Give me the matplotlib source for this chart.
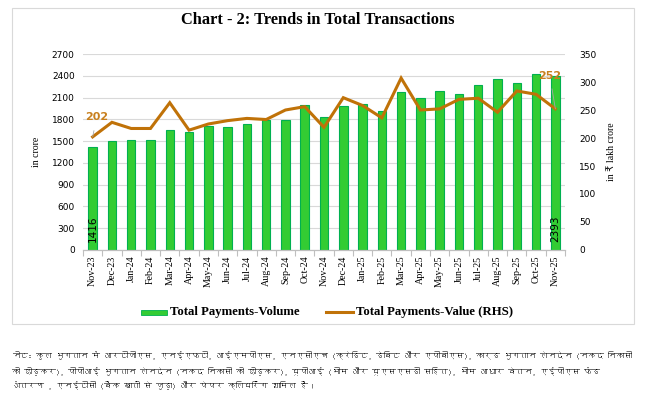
import matplotlib
matplotlib.use("Agg")
import matplotlib.pyplot as plt
from matplotlib import font_manager
from matplotlib.ft2font import FT2Font
from matplotlib.patches import Rectangle
import numpy as np

months = ["Nov-23", "Dec-23", "Jan-24", "Feb-24", "Mar-24", "Apr-24", "May-24",
          "Jun-24", "Jul-24", "Aug-24", "Sep-24", "Oct-24", "Nov-24", "Dec-24",
          "Jan-25", "Feb-25", "Mar-25", "Apr-25", "May-25", "Jun-25", "Jul-25",
          "Aug-25", "Sep-25", "Oct-25", "Nov-25"]
volume = [1416, 1495, 1522, 1522, 1655, 1620, 1702, 1688, 1742, 1794, 1794, 2004,
          1835, 1986, 2013, 1917, 2178, 2096, 2192, 2150, 2274, 2356, 2302, 2425, 2393]
value = [202, 228, 217, 217, 263, 214, 225, 231, 235, 233, 250, 256, 219, 272,
         258, 236, 307, 250, 252, 269, 271, 246, 284, 278, 252]

title = "Chart - 2: Trends in Total Transactions"
note_lines = [
    "नोट: कुल भुगतान में आरटीजीएस, एनईएफटी, आईएमपीएस, एनएसीएच (क्रेडिट, डेबिट और एपीबीएस), कार्ड भुगतान लेनदेन (नकद निकासी",
    "को छोड़कर), पीपीआई भुगतान लेनदेन (नकद निकासी को छोड़कर), यूपीआई (भीम और यूएसएसडी सहित), भीम आधार वेतन, एईपीएस फंड",
    "अंतरण , एनईटीसी (बैंक खातों से जुड़ा) और पेपर क्लियरिंग शामिल हैं।",
]


def find_family(ch):
    for fe in font_manager.fontManager.ttflist:
        try:
            f = FT2Font(fe.fname)
            if f.get_char_index(ord(ch)):
                return fe.name
        except Exception:
            pass
    return None


deva = find_family("न")
note_family = ([deva] if deva else []) + ["DejaVu Sans"]

W, H = 669, 397
fig = plt.figure(figsize=(W / 100, H / 100), dpi=100)

# chart border
fig.patches.append(Rectangle((12 / W, 1 - 324 / H), (634 - 12) / W, (324 - 8) / H,
                             transform=fig.transFigure, fill=False,
                             edgecolor="#D9D9D9", linewidth=0.8))

ax = fig.add_axes([83 / W, 1 - 250 / H, (565 - 83) / W, (250 - 54) / H])
ax2 = ax.twinx()

x = np.arange(len(months))
bar_c = "#33CC33"
bar_e = "#00B050"
line_c = "#C07208"

ax.bar(x, volume, width=0.44, color=bar_c, edgecolor=bar_e, linewidth=0.8, zorder=2)
ax.set_ylim(0, 2700)
ax.set_yticks(np.arange(0, 2701, 300))
ax.set_xlim(-0.5, len(months) - 0.5)
ax.grid(axis="y", color="#D9D9D9", linewidth=0.8, zorder=0)
ax.set_axisbelow(True)

ax2.plot(x, value, color=line_c, linewidth=2.2, zorder=3, solid_joinstyle="miter")
ax2.set_ylim(0, 350)
ax2.set_yticks(np.arange(0, 351, 50))

for a in (ax, ax2):
    for s in ("top", "left", "right"):
        a.spines[s].set_visible(False)
    a.spines["bottom"].set_color("#BFBFBF")
    a.tick_params(axis="y", length=0, labelsize=6.5, labelcolor="#000000")
ax.tick_params(axis="y", pad=6)
ax2.tick_params(axis="y", pad=10)

ax.set_xticks(x)
ax.set_xticklabels(months, rotation=90, fontsize=7.2, family="Liberation Serif")
ax.tick_params(axis="x", length=0, pad=4)
ax.set_xticks(np.arange(-0.5, len(months), 1), minor=True)
ax.tick_params(axis="x", which="minor", length=4, color="#BFBFBF", width=0.8)

ax.set_ylabel("in crore", family="Liberation Serif", fontsize=7, labelpad=8)
ax2.set_ylabel("in ₹ lakh crore", family=["Liberation Serif", "DejaVu Sans"], fontsize=7, labelpad=8)

# data labels for bars (first and last)
for i in (0, len(months) - 1):
    ax.annotate(str(volume[i]), (x[i], 0), xytext=(0, 6), textcoords="offset points",
                rotation=90, ha="center", va="bottom", fontsize=7.5, color="black",
                zorder=5)

# data labels for line (first and last) with leader lines
lbl_kw = dict(fontsize=8, fontweight="bold", color="#C8801E", family="DejaVu Sans",
              ha="center", va="center", zorder=6,
              arrowprops=dict(arrowstyle="-", color="#A6A6A6", lw=0.6, shrinkA=4, shrinkB=0))
ax2.annotate(str(value[0]), (x[0], value[0]), xytext=(3, 14), textcoords="offset points", **lbl_kw)
ax2.annotate(str(value[-1]), (x[-1], value[-1]), xytext=(-4, 24), textcoords="offset points", **lbl_kw)

fig.text(318 / W, 1 - 20 / H, title, ha="center", va="center", fontsize=11.8,
         fontweight="bold", family="Liberation Serif")

# legend
fig.patches.append(Rectangle((141 / W, 1 - 314.5 / H), 26 / W, 5 / H, transform=fig.transFigure,
                             facecolor=bar_c, edgecolor=bar_e, linewidth=0.6))
fig.text(170 / W, 1 - 312 / H, "Total Payments-Volume", ha="left", va="center",
         fontsize=9.2, fontweight="bold", family="Liberation Serif")
fig.lines.append(plt.Line2D([326 / W, 353 / W], [1 - 312 / H, 1 - 312 / H],
                            transform=fig.transFigure, color=line_c, linewidth=2.2))
fig.text(356 / W, 1 - 312 / H, "Total Payments-Value (RHS)", ha="left", va="center",
         fontsize=9.2, fontweight="bold", family="Liberation Serif")

# note: fit the longest line into the width the reference uses
note_texts = []
for k, ln in enumerate(note_lines):
    t = fig.text(12 / W, 1 - (356 + 15 * k) / H, ln, ha="left", va="center", fontsize=7.6,
                 style="italic", family=note_family)
    note_texts.append(t)
renderer = fig.canvas.get_renderer()
widest = max(t.get_window_extent(renderer).width for t in note_texts)
target = 620.0
if widest > target:
    fs = 7.6 * target / widest
    for t in note_texts:
        t.set_fontsize(fs)

fig.savefig("out.png", dpi=100)
